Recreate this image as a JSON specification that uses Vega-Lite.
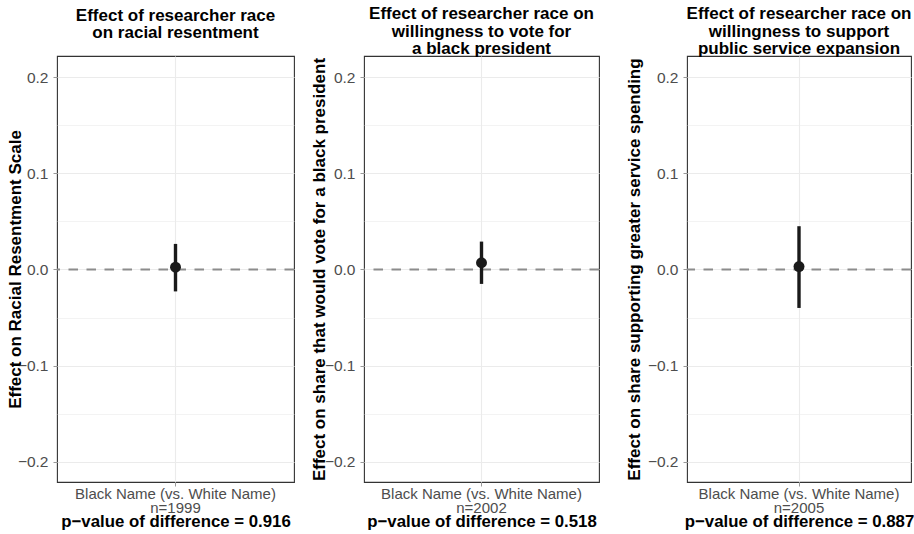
{
  "$schema": "https://vega.github.io/schema/vega-lite/v6.json",
  "background": "white",
  "padding": {"left": 5, "right": 5, "top": 4, "bottom": 2},
  "config": {
    "font": "Liberation Sans",
    "view": {"stroke": "#333333", "strokeWidth": 1.1},
    "title": {"fontSize": 17, "fontWeight": "bold", "color": "#000000", "lineHeight": 17.5, "anchor": "middle", "font": "Liberation Sans"},
    "axisY": {
      "values": [-0.2, -0.15, -0.1, -0.05, 0, 0.05, 0.1, 0.15, 0.2],
      "format": ".1f",
      "labelExpr": "abs(round(datum.value*20)) % 2 == 0 ? datum.label : ''",
      "labelFontSize": 15.5,
      "labelColor": "#4d4d4d",
      "labelPadding": 5,
      "labelOverlap": false,
      "tickSize": 4,
      "tickColor": "#999999",
      "tickOpacity": {"condition": {"test": "abs(round(datum.value*20)) % 2 == 1", "value": 0}, "value": 1},
      "domain": false,
      "grid": true,
      "gridColor": "#ebebeb",
      "gridWidth": {"condition": {"test": "abs(round(datum.value*20)) % 2 == 1", "value": 0.6}, "value": 1.1},
      "titleFontSize": 17,
      "titleFontWeight": "bold",
      "titleColor": "#000000",
      "titleLimit": 1000
    },
    "axisX": {
      "labelExpr": "split(datum.label, '\\n')",
      "labelFontSize": 15,
      "labelColor": "#4d4d4d",
      "labelAngle": 0,
      "labelPadding": 0,
      "labelLineHeight": 14.5,
      "labelLimit": 400,
      "tickSize": 4,
      "tickColor": "#999999",
      "domain": false,
      "grid": true,
      "gridColor": "#ebebeb",
      "gridWidth": 1.1,
      "titleFontSize": 16.8,
      "titleFontWeight": "bold",
      "titleColor": "#000000",
      "titlePadding": -2
    }
  },
  "spacing": 23,
  "hconcat": [
    {
      "spacing": 13,
      "hconcat": [
        {
          "width": 237,
          "height": 426,
          "title": {"text": ["Effect of researcher race", "on racial resentment"], "offset": 14},
          "data": {"values": [{"group": "Black Name (vs. White Name)\nn=1999", "estimate": 0.0024, "lower": -0.0228, "upper": 0.0266}]},
          "layer": [
            {
              "mark": {"type": "rule", "color": "#8c8c8c", "strokeWidth": 2.2, "strokeDash": [9.5, 8.5]},
              "encoding": {
                "y": {"datum": 0, "type": "quantitative", "scale": {"domain": [-0.221, 0.222], "nice": false, "zero": false}, "axis": {"title": "Effect on Racial Resentment Scale", "titlePadding": -7}}
              }
            },
            {
              "mark": {"type": "rule", "color": "#1a1a1a", "strokeWidth": 3.4},
              "encoding": {
                "x": {"field": "group", "type": "nominal", "axis": {"title": "p−value of difference = 0.916"}},
                "y": {"field": "lower", "type": "quantitative"},
                "y2": {"field": "upper"}
              }
            },
            {
              "mark": {"type": "circle", "color": "#1a1a1a", "size": 120, "opacity": 1},
              "encoding": {
                "x": {"field": "group", "type": "nominal"},
                "y": {"field": "estimate", "type": "quantitative"}
              }
            }
          ]
        },
        {
          "width": 235,
          "height": 426,
          "title": {"text": ["Effect of researcher race on", "willingness to vote for", "a black president"], "offset": -2},
          "data": {"values": [{"group": "Black Name (vs. White Name)\nn=2002", "estimate": 0.007, "lower": -0.015, "upper": 0.029}]},
          "layer": [
            {
              "mark": {"type": "rule", "color": "#8c8c8c", "strokeWidth": 2.2, "strokeDash": [9.5, 8.5]},
              "encoding": {
                "y": {"datum": 0, "type": "quantitative", "scale": {"domain": [-0.221, 0.222], "nice": false, "zero": false}, "axis": {"title": "Effect on share that would vote for a black president", "titlePadding": -4}}
              }
            },
            {
              "mark": {"type": "rule", "color": "#1a1a1a", "strokeWidth": 3.4},
              "encoding": {
                "x": {"field": "group", "type": "nominal", "axis": {"title": "p−value of difference = 0.518"}},
                "y": {"field": "lower", "type": "quantitative"},
                "y2": {"field": "upper"}
              }
            },
            {
              "mark": {"type": "circle", "color": "#1a1a1a", "size": 120, "opacity": 1},
              "encoding": {
                "x": {"field": "group", "type": "nominal"},
                "y": {"field": "estimate", "type": "quantitative"}
              }
            }
          ]
        }
      ]
    },
    {
      "width": 224,
      "height": 426,
      "title": {"text": ["Effect of researcher race on", "willingness to support", "public service expansion"], "offset": -2},
      "data": {"values": [{"group": "Black Name (vs. White Name)\nn=2005", "estimate": 0.003, "lower": -0.04, "upper": 0.045}]},
      "layer": [
        {
          "mark": {"type": "rule", "color": "#8c8c8c", "strokeWidth": 2.2, "strokeDash": [9.5, 8.5]},
          "encoding": {
            "y": {"datum": 0, "type": "quantitative", "scale": {"domain": [-0.221, 0.222], "nice": false, "zero": false}, "axis": {"title": "Effect on share supporting greater service spending", "titlePadding": 4}}
          }
        },
        {
          "mark": {"type": "rule", "color": "#1a1a1a", "strokeWidth": 3.4},
          "encoding": {
            "x": {"field": "group", "type": "nominal", "axis": {"title": "p−value of difference = 0.887"}},
            "y": {"field": "lower", "type": "quantitative"},
            "y2": {"field": "upper"}
          }
        },
        {
          "mark": {"type": "circle", "color": "#1a1a1a", "size": 120, "opacity": 1},
          "encoding": {
            "x": {"field": "group", "type": "nominal"},
            "y": {"field": "estimate", "type": "quantitative"}
          }
        }
      ]
    }
  ]
}
